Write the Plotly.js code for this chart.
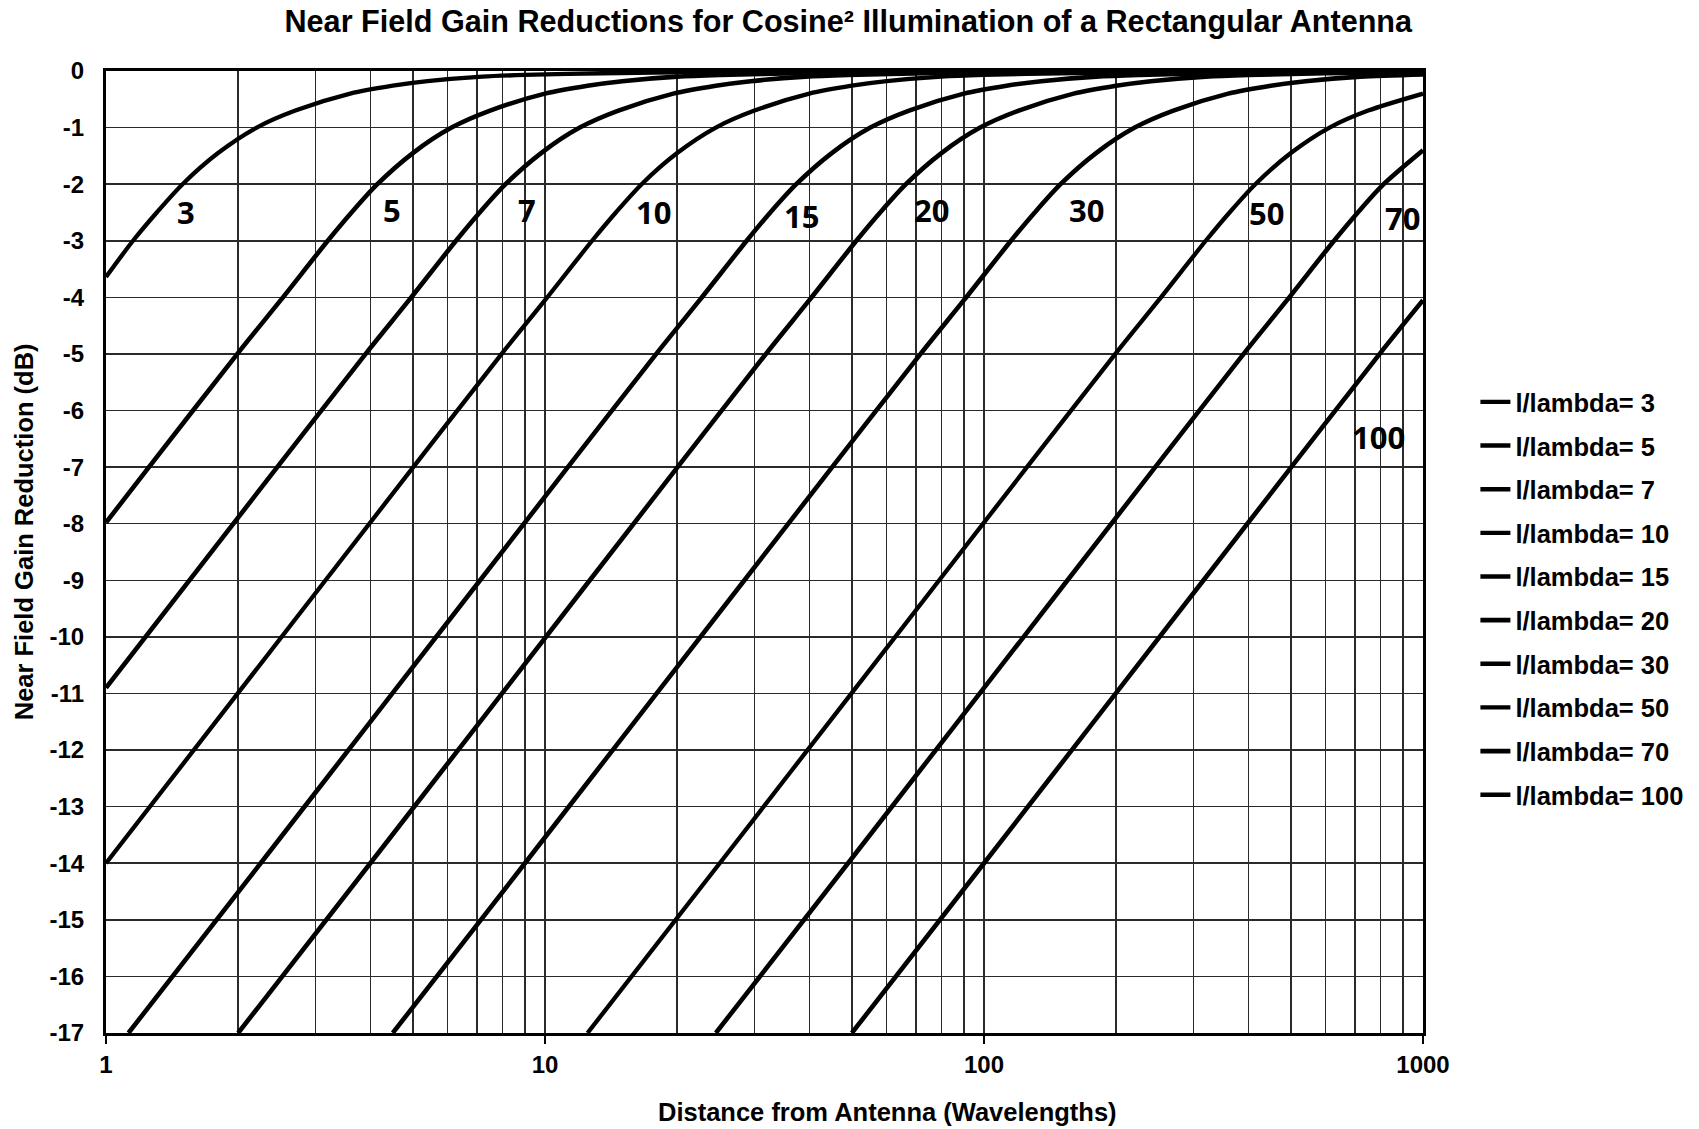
<!DOCTYPE html>
<html><head><meta charset="utf-8">
<script src="https://cdn.plot.ly/plotly-3.0.1.min.js"></script>
<style>html,body{margin:0;padding:0;background:#fff}#chart{width:1699px;height:1129px}</style>
</head><body><div id="chart"></div>
<script>
// ---- data ----
var apertures = [3, 5, 7, 10, 15, 20, 30, 50, 70, 100];

var x_3 = [1, 1.152, 1.305, 1.494, 1.8, 2.205, 2.7, 3.6, 4.5, 5.4, 7.2, 9, 13.5, 22.5, 45, 90, 250, 1000];
var y_3 = [-3.64, -3.0, -2.5, -2.0, -1.45, -1.0, -0.70, -0.40, -0.26, -0.18, -0.10, -0.07, -0.04, -0.02, -0.01, -0.005, -0.003, -0.002];

var x_5 = [1, 1.25, 2, 2.5, 3.2, 3.625, 4.15, 5, 6.125, 7.5, 10, 12.5, 15, 20, 25, 37.5, 62.5, 125, 250, 1000];
var y_5 = [-7.98, -7.01, -4.98, -4.05, -3.0, -2.5, -2.0, -1.45, -1.0, -0.70, -0.40, -0.26, -0.18, -0.10, -0.07, -0.04, -0.02, -0.01, -0.005, -0.002];

var x_7 = [1, 2.45, 3.92, 4.9, 6.27, 7.1, 8.13, 9.8, 12.0, 14.7, 19.6, 24.5, 29.4, 39.2, 49, 73.5, 122.5, 245, 490, 1000];
var y_7 = [-10.90, -7.01, -4.98, -4.05, -3.0, -2.5, -2.0, -1.45, -1.0, -0.70, -0.40, -0.26, -0.18, -0.10, -0.07, -0.04, -0.02, -0.01, -0.005, -0.003];

var x_10 = [1, 2, 5, 8, 10, 12.8, 14.5, 16.6, 20, 24.5, 30, 40, 50, 60, 80, 100, 150, 250, 500, 1000];
var y_10 = [-14.0, -10.99, -7.01, -4.98, -4.05, -3.0, -2.5, -2.0, -1.45, -1.0, -0.70, -0.40, -0.26, -0.18, -0.10, -0.07, -0.04, -0.02, -0.01, -0.005];

var x_15 = [1.125, 2.25, 4.5, 11.25, 18, 22.5, 28.8, 32.6, 37.35, 45, 55.1, 67.5, 90, 112.5, 135, 180, 225, 337.5, 562.5, 1000];
var y_15 = [-17.0, -14.0, -10.99, -7.01, -4.98, -4.05, -3.0, -2.5, -2.0, -1.45, -1.0, -0.70, -0.40, -0.26, -0.18, -0.10, -0.07, -0.04, -0.02, -0.012];

var x_20 = [2, 4, 8, 20, 32, 40, 51.2, 58, 66.4, 80, 98, 120, 160, 200, 240, 320, 400, 600, 1000];
var y_20 = [-17.0, -14.0, -10.99, -7.01, -4.98, -4.05, -3.0, -2.5, -2.0, -1.45, -1.0, -0.70, -0.40, -0.26, -0.18, -0.10, -0.07, -0.04, -0.02];

var x_30 = [4.5, 9, 18, 45, 72, 90, 115.2, 130.5, 149.4, 180, 220.5, 270, 360, 450, 540, 720, 1000];
var y_30 = [-17.0, -14.0, -10.99, -7.01, -4.98, -4.05, -3.0, -2.5, -2.0, -1.45, -1.0, -0.70, -0.40, -0.26, -0.18, -0.10, -0.06];

var x_50 = [12.5, 25, 50, 125, 200, 250, 320, 362.5, 415, 500, 612.5, 750, 1000];
var y_50 = [-17.0, -14.0, -10.99, -7.01, -4.98, -4.05, -3.0, -2.5, -2.0, -1.45, -1.0, -0.70, -0.40];

var x_70 = [24.5, 49, 98, 245, 392, 490, 627.2, 710.5, 813.4, 1000];
var y_70 = [-17.0, -14.0, -10.99, -7.01, -4.98, -4.05, -3.0, -2.5, -2.0, -1.40];

var x_100 = [50, 100, 200, 500, 800, 1000];
var y_100 = [-17.0, -14.0, -10.99, -7.01, -4.98, -4.05];

// curve label positions (data coordinates)
var labelText = ['3', '5', '7', '10', '15', '20', '30', '50', '70', '100'];
var labelX = [1.52, 4.48, 9.12, 17.7, 38.4, 75.9, 171, 441, 898, 793];
var labelY = [-2.49, -2.45, -2.45, -2.49, -2.57, -2.45, -2.45, -2.51, -2.60, -6.47];

// tick labels
var xTickVals = [1, 10, 100, 1000];
var xTickText = ['1', '10', '100', '1000'];
var xMinorVals = [2,3,4,5,6,7,8,9,20,30,40,50,60,70,80,90,200,300,400,500,600,700,800,900];
var yTickVals = [0,-1,-2,-3,-4,-5,-6,-7,-8,-9,-10,-11,-12,-13,-14,-15,-16,-17];
var yTickText = ['0','-1','-2','-3','-4','-5','-6','-7','-8','-9','-10','-11','-12','-13','-14','-15','-16','-17'];

// ---- build chart ----
var seriesX = [x_3, x_5, x_7, x_10, x_15, x_20, x_30, x_50, x_70, x_100];
var seriesY = [y_3, y_5, y_7, y_10, y_15, y_20, y_30, y_50, y_70, y_100];
var widths = [4.3, 4.6, 4.6, 4.3, 4.6, 4.6, 4.6, 4.3, 4.6, 4.6];

var FONT = 'Liberation Sans, Arial, sans-serif';
var traces = apertures.map(function (L, i) {
  return {
    x: seriesX[i], y: seriesY[i], type: 'scatter', mode: 'lines',
    name: 'l/lambda= ' + L, legendgroup: 'g' + L,
    line: {color: '#000', width: widths[i], shape: 'spline', smoothing: 0.8},
    hoverinfo: 'x+y+name'
  };
});

var annotations = labelText.map(function (t, i) {
  return {
    x: Math.log10(labelX[i]), y: labelY[i], xref: 'x', yref: 'y', text: t,
    showarrow: false, xanchor: 'center', yanchor: 'middle',
    font: {family: 'Noto Sans, Open Sans, sans-serif', size: 31, color: '#000', weight: 'bold'}
  };
});
annotations.push({
  xref: 'paper', yref: 'paper', x: 0.5933, y: -0.0821, xanchor: 'center', yanchor: 'middle',
  text: 'Distance from Antenna (Wavelengths)', showarrow: false,
  font: {family: FONT, size: 25.5, color: '#000', weight: 'bold'}
});
annotations.push({
  xref: 'paper', yref: 'paper', x: -0.0622, y: 0.5206, xanchor: 'center', yanchor: 'middle',
  text: 'Near Field Gain Reduction (dB)', showarrow: false, textangle: -90,
  font: {family: FONT, size: 25.5, color: '#000', weight: 'bold'}
});

var gridColor = '#2a2a2a';
var layout = {
  width: 1699, height: 1129,
  paper_bgcolor: '#fff', plot_bgcolor: '#fff',
  margin: {l: 106, r: 275, t: 71, b: 96},
  font: {family: FONT, color: '#000'},
  title: {
    text: 'Near Field Gain Reductions for Cosine² Illumination of a Rectangular Antenna',
    x: 0.4993, xanchor: 'center', xref: 'container',
    y: 0.981, yanchor: 'middle', yref: 'container',
    font: {family: FONT, size: 30.6, color: '#000', weight: 'bold'}
  },
  xaxis: {
    type: 'log', range: [0, 3],
    tickmode: 'array', tickvals: xTickVals, ticktext: xTickText,
    ticks: 'outside', ticklen: 8, tickwidth: 1.5, tickcolor: '#000',
    showgrid: true, gridcolor: gridColor, gridwidth: 1.5,
    minor: {tickmode: 'array', tickvals: xMinorVals, showgrid: true, gridcolor: gridColor, gridwidth: 1.5, ticks: ''},
    showline: true, linecolor: '#000', linewidth: 3, mirror: true, zeroline: false,
    tickfont: {family: FONT, size: 24, color: '#000', weight: 'bold'},
    ticklabelstandoff: 0
  },
  yaxis: {
    range: [-17, 0], tickmode: 'array', tickvals: yTickVals, ticktext: yTickText,
    ticks: '', showgrid: true, gridcolor: gridColor, gridwidth: 1.5,
    showline: true, linecolor: '#000', linewidth: 3, mirror: true, zeroline: false,
    tickfont: {family: FONT, size: 24, color: '#000', weight: 'bold'},
    ticklabelstandoff: 14
  },
  legend: {
    x: 1.039, xanchor: 'left', y: 0.68, yanchor: 'top',
    traceorder: 'grouped', tracegroupgap: 7.5,
    bgcolor: 'rgba(0,0,0,0)', borderwidth: 0,
    font: {family: FONT, size: 25.5, color: '#000', weight: 'bold'}
  },
  annotations: annotations,
  showlegend: true
};

Plotly.newPlot('chart', traces, layout, {displayModeBar: false, staticPlot: true});
</script></body></html>
